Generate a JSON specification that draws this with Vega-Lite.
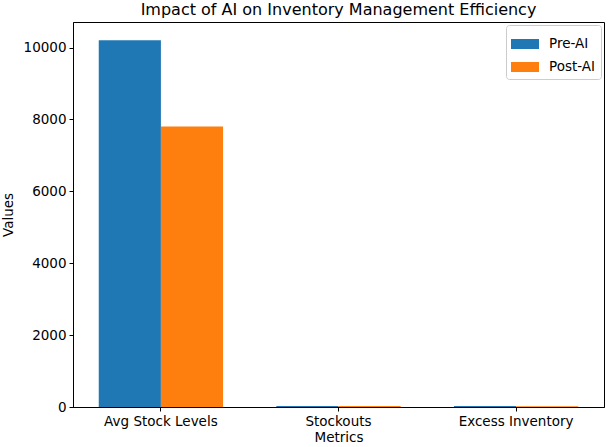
{
  "$schema": "https://vega.github.io/schema/vega-lite/v6.json",
  "width": 531,
  "height": 385,
  "autosize": {"type": "none"},
  "padding": {"left": 73, "top": 22, "right": 9, "bottom": 40},
  "background": "white",
  "title": {"text": "Impact of AI on Inventory Management Efficiency", "font": "DejaVu Sans", "fontSize": 16, "fontWeight": "normal", "color": "black", "offset": 4},
  "data": {
    "values": [
      {"metric": "Avg Stock Levels", "period": "Pre-AI", "value": 10200},
      {"metric": "Avg Stock Levels", "period": "Post-AI", "value": 7800},
      {"metric": "Stockouts", "period": "Pre-AI", "value": 30},
      {"metric": "Stockouts", "period": "Post-AI", "value": 25},
      {"metric": "Excess Inventory", "period": "Pre-AI", "value": 28},
      {"metric": "Excess Inventory", "period": "Post-AI", "value": 22}
    ]
  },
  "mark": {"type": "bar"},
  "encoding": {
    "x": {
      "field": "metric", "type": "nominal",
      "sort": ["Avg Stock Levels", "Stockouts", "Excess Inventory"],
      "scale": {"paddingInner": 0.3, "paddingOuter": 0.145},
      "axis": {"title": "Metrics", "labelAngle": 0, "labelFont": "DejaVu Sans", "labelFontSize": 13.5, "labelColor": "black", "titleFont": "DejaVu Sans", "titleFontSize": 13.5, "titleFontWeight": "normal", "titleColor": "black", "domainColor": "black", "tickColor": "black", "tickSize": 4, "labelPadding": 3, "titlePadding": 3}
    },
    "xOffset": {"field": "period", "type": "nominal", "sort": ["Pre-AI", "Post-AI"], "scale": {"paddingInner": 0, "paddingOuter": 0}},
    "y": {
      "field": "value", "type": "quantitative",
      "scale": {"domain": [0, 10710], "nice": false},
      "axis": {"title": "Values", "values": [0, 2000, 4000, 6000, 8000, 10000], "format": "d", "grid": false, "labelFont": "DejaVu Sans", "labelFontSize": 13.5, "labelColor": "black", "titleFont": "DejaVu Sans", "titleFontSize": 13.5, "titleFontWeight": "normal", "titleColor": "black", "domainColor": "black", "tickColor": "black", "tickSize": 4, "labelPadding": 3, "titlePadding": 8}
    },
    "color": {
      "field": "period", "type": "nominal", "sort": ["Pre-AI", "Post-AI"],
      "scale": {"domain": ["Pre-AI", "Post-AI"], "range": ["#1f77b4", "#ff7f0e"]},
      "legend": {"title": null, "orient": "top-right", "offset": 3, "symbolType": "M-1,-0.357H1V0.357H-1Z", "symbolSize": 784, "labelFont": "DejaVu Sans", "labelFontSize": 13.5, "labelColor": "black", "labelOffset": 10, "fillColor": "white", "strokeColor": "#cccccc", "padding": 5, "rowPadding": 2, "cornerRadius": 3, "symbolStrokeWidth": 0}
    }
  },
  "config": {"view": {"stroke": "black", "strokeWidth": 1}, "axis": {"domainWidth": 1}}
}
